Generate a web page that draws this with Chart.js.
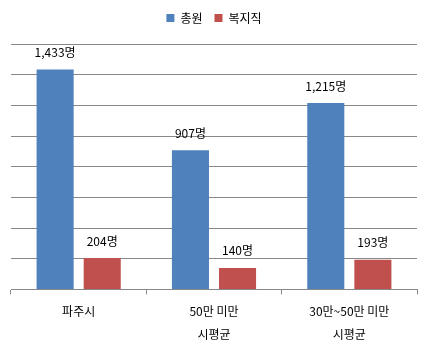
<!DOCTYPE html>
<html>
<head>
<meta charset="utf-8">
<script src="https://cdn.jsdelivr.net/npm/chart.js@4"></script>
<style>
  html, body { margin: 0; padding: 0; background: #fff; }
  #wrap { width: 430px; height: 352px; }
</style>
</head>
<body>
<div id="wrap"><canvas id="canvas-Staff"></canvas></div>
<script>
const categories = [["파주시"], ["50만 미만", "시평균"], ["30만~50만 미만", "시평균"]];
const totalStaff = [1433, 907, 1215]; // 총원
const welfareStaff = [204, 140, 193]; // 복지직
const yMax = 1600;
const yStep = 200;

const font = "'Noto Sans CJK KR', 'Noto Sans', sans-serif";

// draws "1,433명" style labels above each bar
const barLabels = {
  id: "barLabels",
  afterDatasetsDraw(chart) {
    const ctx = chart.ctx;
    ctx.save();
    ctx.font = "12px " + font;
    ctx.fillStyle = "#000";
    ctx.textAlign = "center";
    ctx.textBaseline = "middle";
    chart.data.datasets.forEach((ds, i) => {
      chart.getDatasetMeta(i).data.forEach((bar, j) => {
        ctx.fillText(ds.data[j].toLocaleString("en-US") + "명", bar.x, bar.y - 17);
      });
    });
    ctx.restore();
  },
};

// extra room under the legend
const legendMargin = {
  id: "legendMargin",
  beforeInit(chart) {
    const fit = chart.legend.fit;
    chart.legend.fit = function () {
      fit.bind(chart.legend)();
      this.height += 10;
    };
  },
};

new Chart(document.getElementById("canvas-Staff").getContext("2d"), {
  type: "bar",
  data: {
    labels: categories,
    datasets: [
      { label: "총원", data: totalStaff, backgroundColor: "#4F81BD" },
      { label: "복지직", data: welfareStaff, backgroundColor: "#C0504D" },
    ],
  },
  options: {
    responsive: true,
    maintainAspectRatio: false,
    animation: false,
    categoryPercentage: 0.696,
    barPercentage: 0.787,
    layout: { padding: { left: 11, right: 13, top: 0, bottom: 0 } },
    plugins: {
      legend: {
        position: "top",
        labels: {
          boxWidth: 8,
          boxHeight: 8,
          padding: 12,
          color: "#000",
          font: { family: font, size: 12 },
        },
      },
      tooltip: { enabled: false },
    },
    scales: {
      x: {
        grid: { drawOnChartArea: false, drawTicks: true, tickLength: 5, color: "#888" },
        border: { color: "#888" },
        ticks: { color: "#000", font: { family: font, size: 12, lineHeight: 1.9 }, padding: 6 },
      },
      y: {
        min: 0,
        max: yMax,
        ticks: { display: false, stepSize: yStep },
        grid: { color: "#888", drawTicks: false },
        border: { display: false },
      },
    },
  },
  plugins: [barLabels, legendMargin],
});
</script>
</body>
</html>
